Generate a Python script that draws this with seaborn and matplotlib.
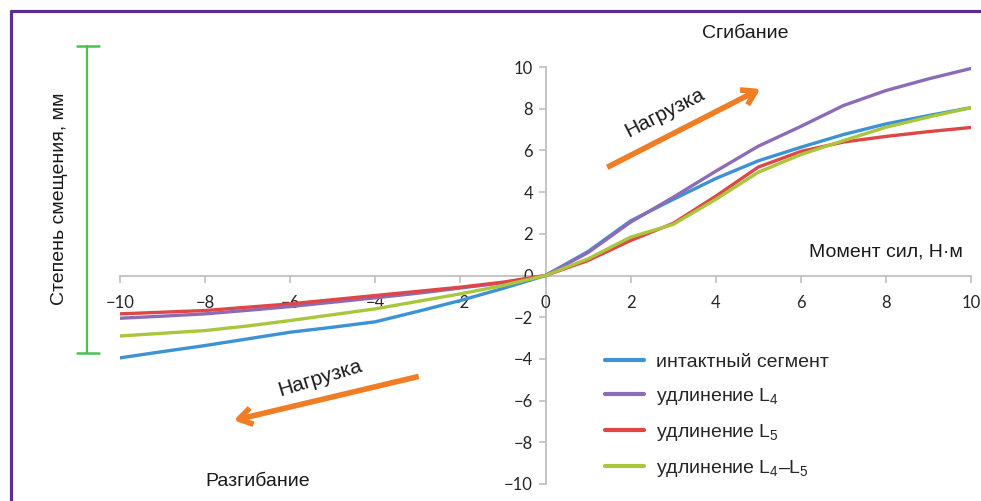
import numpy as np
import pandas as pd
import matplotlib
matplotlib.use("Agg")
import matplotlib.pyplot as plt
from matplotlib.lines import Line2D
import seaborn as sns

# Moment (N·m) and displacement (mm)
moment = [-10, -9, -8, -7, -6, -5, -4, -3, -2, -1, 0,
          1, 2, 3, 4, 5, 6, 7, 8, 9, 10]

intact = [-3.95, -3.65, -3.36, -3.04, -2.72, -2.48, -2.22, -1.72, -1.20, -0.62, 0.0,
          1.15, 2.62, 3.65, 4.65, 5.50, 6.15, 6.76, 7.27, 7.67, 8.05]
elong_l4 = [-2.05, -1.95, -1.84, -1.67, -1.49, -1.28, -1.07, -0.85, -0.60, -0.35, 0.0,
            1.10, 2.56, 3.75, 5.00, 6.20, 7.15, 8.15, 8.87, 9.43, 9.93]
elong_l5 = [-1.84, -1.76, -1.68, -1.52, -1.36, -1.16, -0.96, -0.76, -0.56, -0.32, 0.0,
            0.72, 1.68, 2.50, 3.80, 5.20, 5.95, 6.40, 6.67, 6.90, 7.10]
elong_l4l5 = [-2.90, -2.77, -2.64, -2.42, -2.16, -1.88, -1.60, -1.24, -0.88, -0.48, 0.0,
              0.80, 1.84, 2.45, 3.65, 4.95, 5.80, 6.47, 7.11, 7.60, 8.05]

series_names = ["интактный сегмент",
                r"удлинение L$\mathregular{_4}$",
                r"удлинение L$\mathregular{_5}$",
                r"удлинение L$\mathregular{_4}$–L$\mathregular{_5}$"]
series_values = [intact, elong_l4, elong_l5, elong_l4l5]
series_colors = ["#3d92d4", "#8c6bb8", "#e04646", "#a9c63c"]

ticks = list(range(-10, 11, 2))

# long-form table for seaborn
rows = []
for name, vals in zip(series_names, series_values):
    for m, v in zip(moment, vals):
        rows.append({"moment": m, "disp": v, "series": name})
df = pd.DataFrame(rows)

sns.set_theme(style="white")
plt.rcParams["font.family"] = ["Liberation Sans", "DejaVu Sans"]
plt.rcParams["mathtext.fontset"] = "custom"
plt.rcParams["mathtext.rm"] = "Liberation Sans"
plt.rcParams["axes.unicode_minus"] = True

W, H = 981, 501
fig = plt.figure(figsize=(W / 100, H / 100), dpi=100)
fig.patch.set_facecolor("white")


def fx(px):
    return px / W


def fy(py):
    return 1 - py / H


ax = fig.add_axes([fx(120), fy(484), fx(971) - fx(120), fy(67) - fy(484)])
ax.set_facecolor("none")

sns.lineplot(data=df, x="moment", y="disp", hue="series", hue_order=series_names,
             palette=series_colors, estimator=None, sort=False, linewidth=2.4,
             ax=ax)
for line in ax.get_lines():
    line.set_solid_joinstyle("round")

ax.set_xlim(-10, 10)
ax.set_ylim(-10, 10)
ax.set_xticks(ticks)
ax.set_yticks(ticks)
ax.set_xlabel("")
ax.set_ylabel("")

axis_grey = "#bfbfbf"
for side in ["top", "right"]:
    ax.spines[side].set_visible(False)
ax.spines["left"].set_position(("data", 0))
ax.spines["bottom"].set_position(("data", 0))
for side in ["left", "bottom"]:
    ax.spines[side].set_color(axis_grey)
    ax.spines[side].set_linewidth(1.3)
    ax.spines[side].set_zorder(0)

ax.tick_params(axis="x", direction="out", length=5, width=1.2, color=axis_grey,
               pad=9, labelsize=12, labelcolor="#262626", bottom=True)
ax.tick_params(axis="y", direction="out", length=5, width=1.2, color=axis_grey,
               pad=4, labelsize=12, labelcolor="#262626", left=True)
for lab in ax.get_xticklabels() + ax.get_yticklabels():
    lab.set_family(["Lato", "DejaVu Sans"])

# legend
handles, labels = ax.get_legend_handles_labels()
ax.legend(handles, labels, loc="upper left",
          bbox_to_anchor=(fx(605), fy(353)), bbox_transform=fig.transFigure,
          frameon=False, fontsize=14, handlelength=2.0, handletextpad=0.6,
          labelspacing=0.78, borderaxespad=0, borderpad=0)
for line in ax.get_legend().get_lines():
    line.set_linewidth(3)

# annotations
txt_col = "#1a1a1a"
orange = "#f07d24"
ax.text(4.7, 11.6, "Сгибание", ha="center", va="center", fontsize=14,
        color=txt_col, clip_on=False)
ax.text(-6.77, -9.88, "Разгибание", ha="center", va="center", fontsize=14,
        color=txt_col, clip_on=False)
ax.text(9.82, 1.15, "Момент сил, Н·м", ha="right", va="center", fontsize=14,
        color=txt_col)
ax.text(2.8, 7.8, "Нагрузка", ha="center", va="center", fontsize=15,
        rotation=27, rotation_mode="anchor", color=txt_col)
ax.text(-5.29, -4.94, "Нагрузка", ha="center", va="center", fontsize=15,
        rotation=17, rotation_mode="anchor", color=txt_col)

arrow_kw = dict(arrowstyle="->,head_length=0.8,head_width=0.5", color=orange,
                lw=4, shrinkA=0, shrinkB=0, capstyle="butt")
ax.annotate("", xy=(5.05, 8.95), xytext=(1.45, 5.19), arrowprops=arrow_kw)
ax.annotate("", xy=(-7.33, -6.95), xytext=(-2.98, -4.84), arrowprops=arrow_kw)

# y label and green bracket on the left
fig.text(fx(60), fy(199), "Степень смещения, мм", rotation=90, ha="center",
         va="center", fontsize=14, color=txt_col)
green = "#4fbf55"
fig.add_artist(Line2D([fx(87), fx(87)], [fy(46), fy(353)], color=green, lw=1.6,
                      transform=fig.transFigure))
for yy in (46, 353):
    fig.add_artist(Line2D([fx(77), fx(99)], [fy(yy), fy(yy)], color=green,
                          lw=1.8, transform=fig.transFigure))

# purple frame (top and left edges)
frame = "#5c2e91"
fig.add_artist(Line2D([fx(10), 1], [fy(10.7), fy(10.7)], color=frame, lw=2.3,
                      transform=fig.transFigure, solid_capstyle="butt"))
fig.add_artist(Line2D([fx(10.7), fx(10.7)], [fy(9.5), 0], color=frame, lw=2.3,
                      transform=fig.transFigure, solid_capstyle="butt"))

fig.savefig("out.png", dpi=100)
